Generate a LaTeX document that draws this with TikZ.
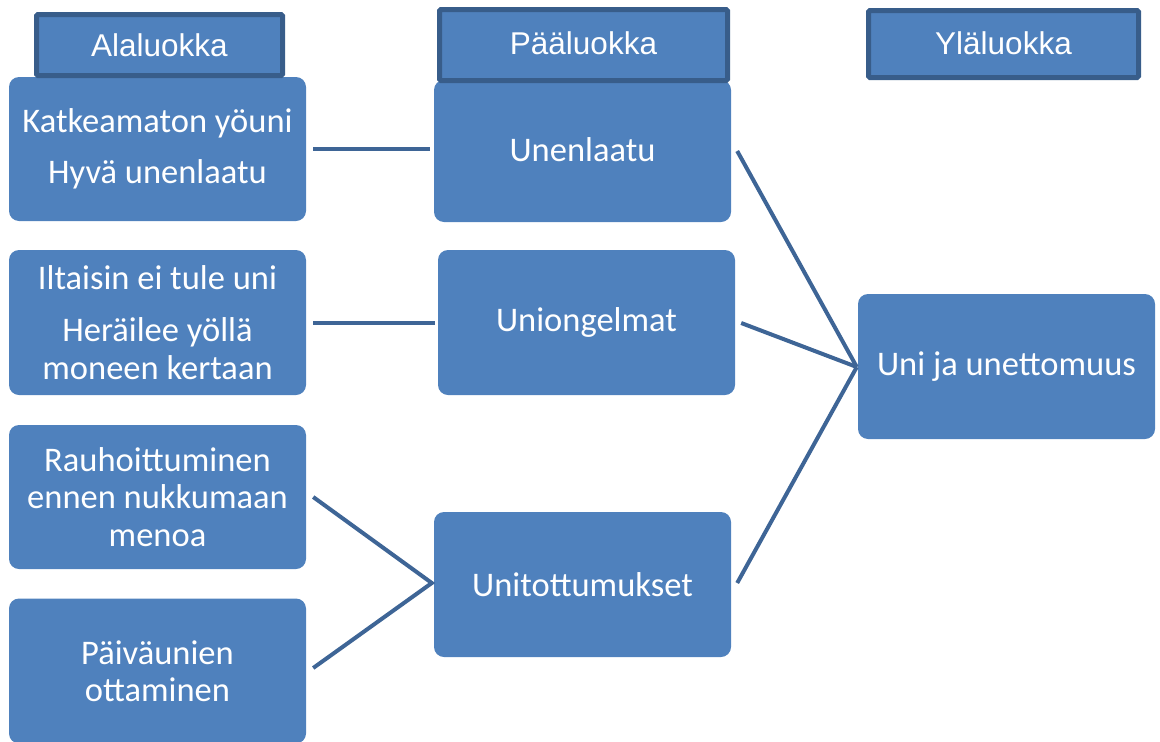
\documentclass[tikz,border=0pt]{standalone}
\usepackage{fontspec}
\setmainfont{Carlito}
\newfontfamily\hdrfont{Liberation Sans}
\usetikzlibrary{calc}
\definecolor{boxfill}{RGB}{79,129,189}
\definecolor{hdrline}{RGB}{56,93,138}
\definecolor{conn}{RGB}{62,101,150}
\tikzset{
  bodybox/.style={fill=boxfill, draw=none, rounded corners=10pt, text=white,
    align=center, inner sep=0pt, font=\fontsize{34.5}{37.5}\selectfont},
  hdrbox/.style={fill=boxfill, draw=hdrline, line width=5pt, rounded corners=1.5pt,
    text=white, align=center, inner sep=0pt, font=\hdrfont\fontsize{31.5}{36}\selectfont},
  conline/.style={draw=conn, line width=4pt},
}
\begin{document}
\begin{tikzpicture}[x=1pt,y=-1pt]
\useasboundingbox (0,0) rectangle (1160,742);
% body boxes
\node[bodybox, minimum width=297pt, minimum height=144pt] (l1) at (157.5,149) {\raisebox{-2pt}{Katkeamaton yöuni}\\[15pt]Hyvä unenlaatu};
\node[bodybox, minimum width=297pt, minimum height=145pt] (l2) at (157.5,322.5) {Iltaisin ei tule uni\\[15pt]Heräilee yöllä\\moneen kertaan};
\node[bodybox, minimum width=297pt, minimum height=144pt] (l3) at (157.5,497) {Rauhoittuminen\\ennen nukkumaan\\menoa};
\node[bodybox, minimum width=297pt, minimum height=145pt] (l4) at (157.5,671) {Päiväunien\\ottaminen};
\node[bodybox, minimum width=297pt, minimum height=142pt] (m1) at (582.5,151) {\raisebox{3pt}{Unenlaatu}};
\node[bodybox, minimum width=297pt, minimum height=145pt] (m2) at (586.5,322.5) {\raisebox{-2pt}{Uniongelmat}};
\node[bodybox, minimum width=297pt, minimum height=145pt] (m3) at (582.5,584.5) {Unitottumukset};
\node[bodybox, minimum width=297pt, minimum height=145pt] (r) at (1006.5,366.5) {\raisebox{-2pt}{Uni ja unettomuus}};
% headers
\node[hdrbox, minimum width=246pt, minimum height=61pt] (h1) at (159.5,45) {Alaluokka};
\node[hdrbox, minimum width=288pt, minimum height=71pt] (h2) at (583.5,45) {\raisebox{3pt}{Pääluokka}};
\node[hdrbox, minimum width=270pt, minimum height=67pt] (h3) at (1003.5,44) {\raisebox{2pt}{Yläluokka}};
% connectors
\draw[conline] ($(l1.east)+(7,0)$) -- ($(m1.west)+(-4,-2)$);
\draw[conline] ($(l2.east)+(7,0)$) -- ($(m2.west)+(-3,0)$);
\coordinate (j3) at ($(m3.west)+(-2,-1.5)$);
\draw[conline, line join=miter] ($(l3.east)+(7,0)$) -- (j3) -- ($(l4.east)+(7,-3)$);
\coordinate (jr) at ($(r.west)+(-1,0.5)$);
\draw[conline] ($(m1.east)+(6,0)$) -- (jr);
\draw[conline] ($(m2.east)+(6,0.5)$) -- (jr);
\draw[conline] ($(m3.east)+(6,-1.5)$) -- (jr);
\end{tikzpicture}
\end{document}
